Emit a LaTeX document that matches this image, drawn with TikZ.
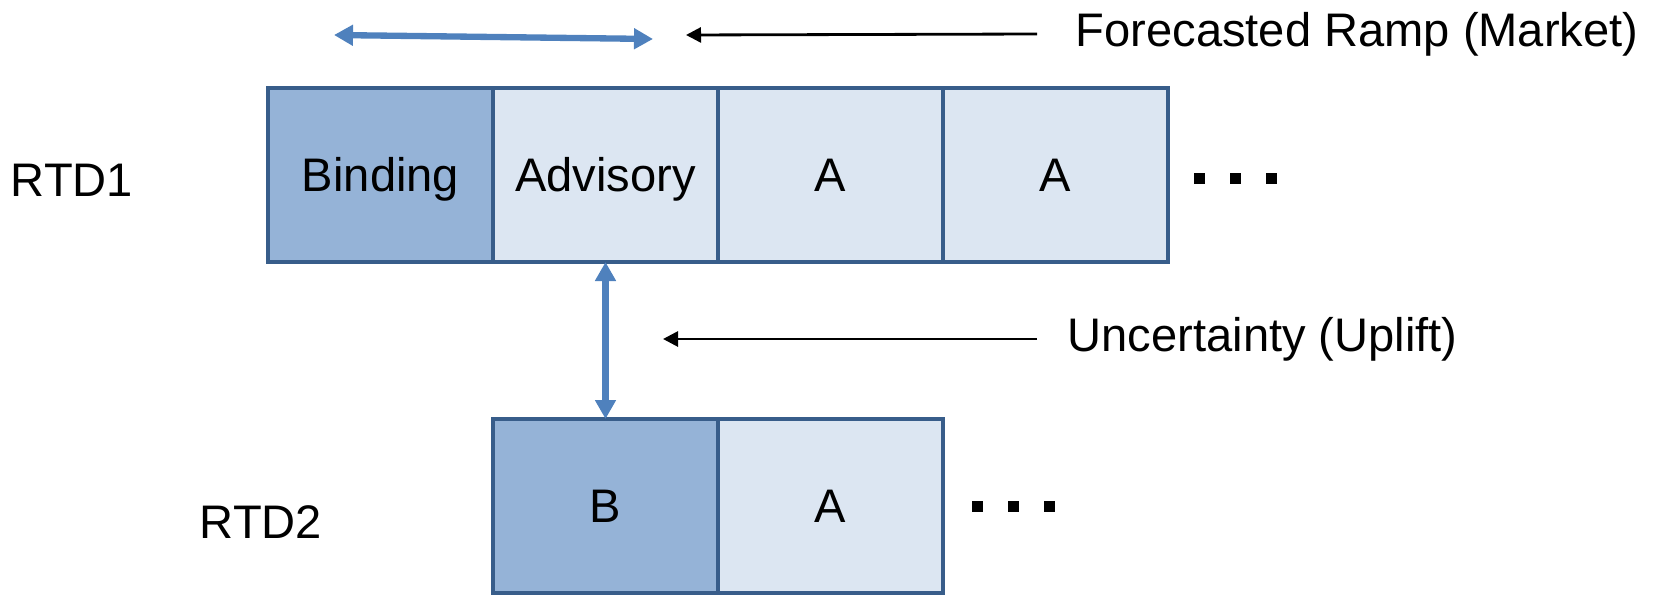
\documentclass[tikz,border=0pt]{standalone}
\usepackage{fontspec}
\setmainfont{Liberation Sans}
\usetikzlibrary{arrows.meta,positioning}

\definecolor{slotedge}{RGB}{56,93,138}
\definecolor{slotdark}{RGB}{149,179,215}
\definecolor{slotlight}{RGB}{220,230,242}
\definecolor{rampblue}{RGB}{79,129,189}

% three square dots trailing a row, centred on (#1,#2)
\newcommand{\slotdots}[2]{%
    \foreach \k in {0,1,2}
        \fill ({#1+\k*0.36-0.055},{#2-0.055}) rectangle ++(0.11,0.11);%
}

\begin{document}
\begin{tikzpicture}[
        font=\fontsize{13.4}{16}\selectfont,
        slot/.style={draw=slotedge, line width=1.4pt, minimum width=2.25cm,
                     minimum height=1.74cm, inner sep=0pt, outer sep=0pt,
                     text height=9.6pt, text depth=0pt},
        ramp/.style={{Triangle[length=0.19cm, width=0.2cm]}-{Triangle[length=0.19cm, width=0.2cm]},
                     line width=1.8pt, draw=rampblue},
        pointer/.style={-{Triangle[length=0.15cm, width=0.15cm]}, line width=0.8pt},
        lbl/.style={anchor=west, inner sep=0pt}
    ]
        \useasboundingbox (0,0) rectangle (16.6,5.94);

        % first dispatch run
        \node[slot, fill=slotdark] (bind) at (3.805,4.19) {Binding};
        \node[slot, fill=slotlight, right=0pt of bind] (adv) {Advisory};
        \node[slot, fill=slotlight, right=0pt of adv] (a1) {A};
        \node[slot, fill=slotlight, right=0pt of a1] (a2) {A};
        \slotdots{11.99}{4.16}

        % second dispatch run
        \node[slot, fill=slotdark, below=1.57cm of adv] (b) {B};
        \node[slot, fill=slotlight, right=0pt of b] (b1) {A};
        \slotdots{9.77}{0.88}

        \node (rtd1) at (0.72,4.14) {RTD1};
        \node (rtd2) at (2.61,0.72) {RTD2};

        \node[lbl] (ramp) at (10.75,5.6) {Forecasted Ramp (Market)};
        \node[lbl] (unc) at (10.67,2.55) {Uncertainty (Uplift)};

        \coordinate (rampL) at (3.34,5.59);
        \coordinate (rampR) at (6.53,5.55);
        \coordinate (rampTip) at (6.86,5.59);
        \coordinate (uncTip) at (6.63,2.55);

        \draw[ramp] (rampL) -- (rampR);
        \draw[ramp] (adv.south) -- (b.north);
        \draw[pointer] ([xshift=-3.8mm]ramp.west) -- (rampTip);
        \draw[pointer] ([xshift=-3mm]unc.west) -- (uncTip);
    \end{tikzpicture}
\end{document}
